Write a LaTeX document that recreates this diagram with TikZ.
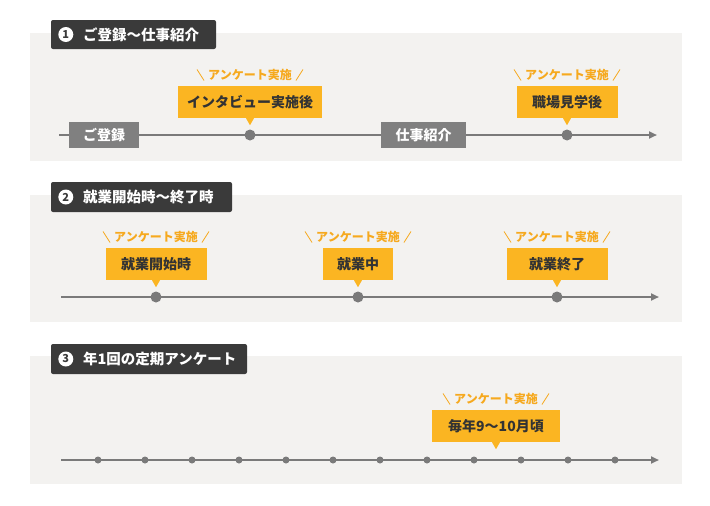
\documentclass[tikz,border=0pt]{standalone}
\usepackage{fontspec}
\newfontfamily\jp{Noto Sans CJK JP}
\usetikzlibrary{arrows.meta}
\usetikzlibrary{positioning}

\definecolor{panelbg}{HTML}{F3F2F0}
\definecolor{titlebg}{HTML}{3A3A3A}
\definecolor{tagyellow}{HTML}{FBB522}
\definecolor{tagorange}{HTML}{F6A91E}
\definecolor{stepgray}{HTML}{808080}
\definecolor{linegray}{HTML}{7A7A7A}
\definecolor{textdark}{HTML}{333333}

\tikzset{
  titlebox/.style={fill=titlebg,rounded corners=2pt,inner sep=0pt},
  titletext/.style={anchor=west,inner sep=0pt,text=white,font=\jp\bfseries\fontsize{14.5}{14.5}\selectfont},
  numcircle/.style={circle,fill=white,inner sep=0pt,minimum size=15pt,text=titlebg,font=\jp\bfseries\fontsize{11}{11}\selectfont},
  timeline/.style={draw=linegray,line width=2pt,-{Triangle[length=8pt,width=7pt]}},
  dot/.style={circle,fill=linegray,inner sep=0pt,minimum size=11pt},
  smalldot/.style={circle,fill=linegray,inner sep=0pt,minimum size=7pt},
  stepbox/.style={fill=stepgray,inner sep=0pt,minimum height=26pt,text=white,font=\jp\bfseries\fontsize{14}{14}\selectfont},
  tagbox/.style={fill=tagyellow,inner sep=0pt,minimum height=32pt,text=textdark,font=\jp\bfseries\fontsize{14}{14}\selectfont},
  taglabel/.style={inner sep=0pt,text=tagorange,font=\jp\bfseries\fontsize{12}{12}\selectfont},
  slash/.style={draw=tagorange,line width=0.8pt}
}

\begin{document}
\begin{tikzpicture}[x=1pt,y=-1pt]
\useasboundingbox[fill=white] (0,0) rectangle (710,506);

% panel backgrounds
\fill[panelbg] (30,33) rectangle (682,161);
\fill[panelbg] (30,195) rectangle (682,322);
\fill[panelbg] (30,356) rectangle (682,484);

% titles
\node[titlebox,minimum width=165pt,minimum height=29pt] (t1) at (133.5,34.5) {};
\node[numcircle] (n1) at ([xshift=15pt]t1.west) {1};
\node[titletext] (tt1) at ([xshift=32pt]t1.west) {ご登録～仕事紹介};

\node[titlebox,minimum width=181pt,minimum height=30pt] (t2) at (141.5,197) {};
\node[numcircle] (n2) at ([xshift=15pt]t2.west) {2};
\node[titletext] (tt2) at ([xshift=32pt]t2.west) {就業開始時～終了時};

\node[titlebox,minimum width=196pt,minimum height=30pt] (t3) at (149,359) {};
\node[numcircle] (n3) at ([xshift=15pt]t3.west) {3};
\node[titletext] (tt3) at ([xshift=32pt]t3.west) {年1回の定期アンケート};

% timeline 1
\coordinate (s1) at (59,135);
\coordinate (e1) at (657,135);
\draw[timeline] (s1) -- (e1);
\node[stepbox,minimum width=70pt] (reg) at (104,135) {ご登録};
\node[stepbox,minimum width=85pt] (job) at (423.5,135) {仕事紹介};
\node[dot] (d11) at (250,135) {};
\node[dot] (d12) at (567,135) {};

\node[tagbox,minimum width=144pt] (b11) at (250,102) {インタビュー実施後};
\fill[tagyellow] ([xshift=-4pt]b11.south) -- ([xshift=4pt]b11.south) -- ([yshift=-7pt]b11.south) -- cycle;
\node[taglabel] (l11) at (250,75) {アンケート実施};
\draw[slash] ([xshift=-11pt,yshift=5.5pt]l11.west) -- ([xshift=-4pt,yshift=-5.5pt]l11.west);
\draw[slash] ([xshift=4pt,yshift=-5.5pt]l11.east) -- ([xshift=11pt,yshift=5.5pt]l11.east);

\node[tagbox,minimum width=101pt] (b12) at (567,102) {職場見学後};
\fill[tagyellow] ([xshift=-4pt]b12.south) -- ([xshift=4pt]b12.south) -- ([yshift=-7pt]b12.south) -- cycle;
\node[taglabel] (l12) at (567,75) {アンケート実施};
\draw[slash] ([xshift=-11pt,yshift=5.5pt]l12.west) -- ([xshift=-4pt,yshift=-5.5pt]l12.west);
\draw[slash] ([xshift=4pt,yshift=-5.5pt]l12.east) -- ([xshift=11pt,yshift=5.5pt]l12.east);

% timeline 2
\coordinate (s2) at (61,297);
\coordinate (e2) at (659,297);
\draw[timeline] (s2) -- (e2);
\node[dot] (d21) at (156,297) {};
\node[dot] (d22) at (358,297) {};
\node[dot] (d23) at (557,297) {};

\node[tagbox,minimum width=101pt] (b21) at (156,264) {就業開始時};
\fill[tagyellow] ([xshift=-4pt]b21.south) -- ([xshift=4pt]b21.south) -- ([yshift=-7pt]b21.south) -- cycle;
\node[taglabel] (l21) at (156,237) {アンケート実施};
\draw[slash] ([xshift=-11pt,yshift=5.5pt]l21.west) -- ([xshift=-4pt,yshift=-5.5pt]l21.west);
\draw[slash] ([xshift=4pt,yshift=-5.5pt]l21.east) -- ([xshift=11pt,yshift=5.5pt]l21.east);

\node[tagbox,minimum width=70pt] (b22) at (358,264) {就業中};
\fill[tagyellow] ([xshift=-4pt]b22.south) -- ([xshift=4pt]b22.south) -- ([yshift=-7pt]b22.south) -- cycle;
\node[taglabel] (l22) at (358,237) {アンケート実施};
\draw[slash] ([xshift=-11pt,yshift=5.5pt]l22.west) -- ([xshift=-4pt,yshift=-5.5pt]l22.west);
\draw[slash] ([xshift=4pt,yshift=-5.5pt]l22.east) -- ([xshift=11pt,yshift=5.5pt]l22.east);

\node[tagbox,minimum width=101pt] (b23) at (557,264) {就業終了};
\fill[tagyellow] ([xshift=-4pt]b23.south) -- ([xshift=4pt]b23.south) -- ([yshift=-7pt]b23.south) -- cycle;
\node[taglabel] (l23) at (557,237) {アンケート実施};
\draw[slash] ([xshift=-11pt,yshift=5.5pt]l23.west) -- ([xshift=-4pt,yshift=-5.5pt]l23.west);
\draw[slash] ([xshift=4pt,yshift=-5.5pt]l23.east) -- ([xshift=11pt,yshift=5.5pt]l23.east);

% timeline 3
\coordinate (s3) at (61,460);
\coordinate (e3) at (659,460);
\draw[timeline] (s3) -- (e3);
\foreach \i in {0,...,11} {
  \node[smalldot] (d3\i) at (98+47*\i,460) {};
}

\node[tagbox,minimum width=128pt] (b31) at (496,426) {毎年9～10月頃};
\fill[tagyellow] ([xshift=-4pt]b31.south) -- ([xshift=4pt]b31.south) -- ([yshift=-7pt]b31.south) -- cycle;
\node[taglabel] (l31) at (496,399) {アンケート実施};
\draw[slash] ([xshift=-11pt,yshift=5.5pt]l31.west) -- ([xshift=-4pt,yshift=-5.5pt]l31.west);
\draw[slash] ([xshift=4pt,yshift=-5.5pt]l31.east) -- ([xshift=11pt,yshift=5.5pt]l31.east);

\end{tikzpicture}
\end{document}
